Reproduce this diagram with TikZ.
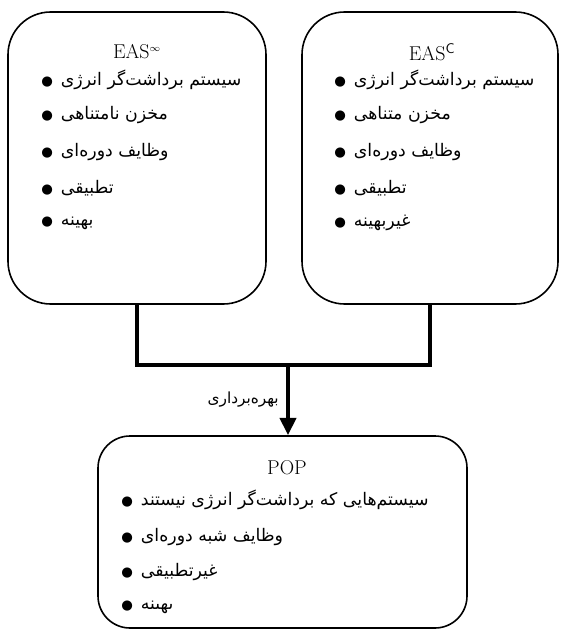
\documentclass[tikz,border=0pt]{standalone}
\usepackage{fontspec}
\usetikzlibrary{arrows.meta}
\TeXXeTstate=1
\newfontfamily\farsi[Script=Arabic]{DejaVu Sans}
\newcommand{\fa}[1]{{\farsi\beginR#1\endR}}
\newcommand{\bul}{{\farsi\fontsize{10}{11}\selectfont ●}}

\begin{document}
\begin{tikzpicture}[x=0.75pt, y=-0.75pt,
	panel/.style={draw, line width=1.2pt, inner sep=0pt},
	title/.style={inner sep=0pt, font=\fontsize{15}{18}\selectfont},
	item/.style={anchor=west, inner sep=0pt, font=\farsi\fontsize{13}{15}\selectfont},
	link/.style={line width=3pt}]
\useasboundingbox (0,0) rectangle (560,631);

% the two storage cases
\node[panel, rounded corners=32pt, minimum width=193.5pt, minimum height=219pt] (inf) at (137,158) {};
\node[panel, rounded corners=32pt, minimum width=192pt, minimum height=219pt] (fin) at (430,158) {};
\node[title] (inftitle) at (137,52) {EAS$^{\scriptscriptstyle\infty}$};
\node[title] (fintitle) at (432,52) {EAS\textsuperscript{\sffamily C}};
\foreach \y/\t [count=\i] in {80/{سیستم برداشت^^^^200cگر انرژی}, 115/{مخزن نامتناهی}, 152/{وظایف دوره^^^^200cای}, 188/{تطبیقی}, 223/{بهینه}} {
	\node[item] (inf\i) at (41,\y) {\bul\hspace{6pt}\fa{\t}};
}
\foreach \y/\t [count=\i] in {80/{سیستم برداشت^^^^200cگر انرژی}, 115/{مخزن متناهی}, 152/{وظایف دوره^^^^200cای}, 188/{تطبیقی}, 223/{غیربهینه}} {
	\node[item] (fin\i) at (334,\y) {\bul\hspace{6pt}\fa{\t}};
}

% the resulting case
\node[panel, rounded corners=24pt, minimum width=276.75pt, minimum height=144pt] (pop) at (282.5,532) {};
\node[title] (poptitle) at (287,468) {POP};
\foreach \y/\t [count=\i] in {500/{سیستم^^^^200cهایی که برداشت^^^^200cگر انرژی نیستند}, 537/{وظایف شبه دوره^^^^200cای}, 572/{غیرتطبیقی}, 607/{ٮهٮنه}} {
	\node[item] (pop\i) at (121,\y) {\bul\hspace{6pt}\fa{\t}};
}

% connectors
\coordinate (join) at (288,365);
\draw[link] (inf.south) |- (fin.south |- join) -- (fin.south);
\draw[link, -{Triangle[length=13pt,width=12pt]}] (join) -- (join |- pop.north);
\node[anchor=east, inner sep=0pt, font=\farsi\fontsize{11.5}{13}\selectfont] (use) at (279,400) {\fa{بهره^^^^200cبرداری}};

\end{tikzpicture}
\end{document}
